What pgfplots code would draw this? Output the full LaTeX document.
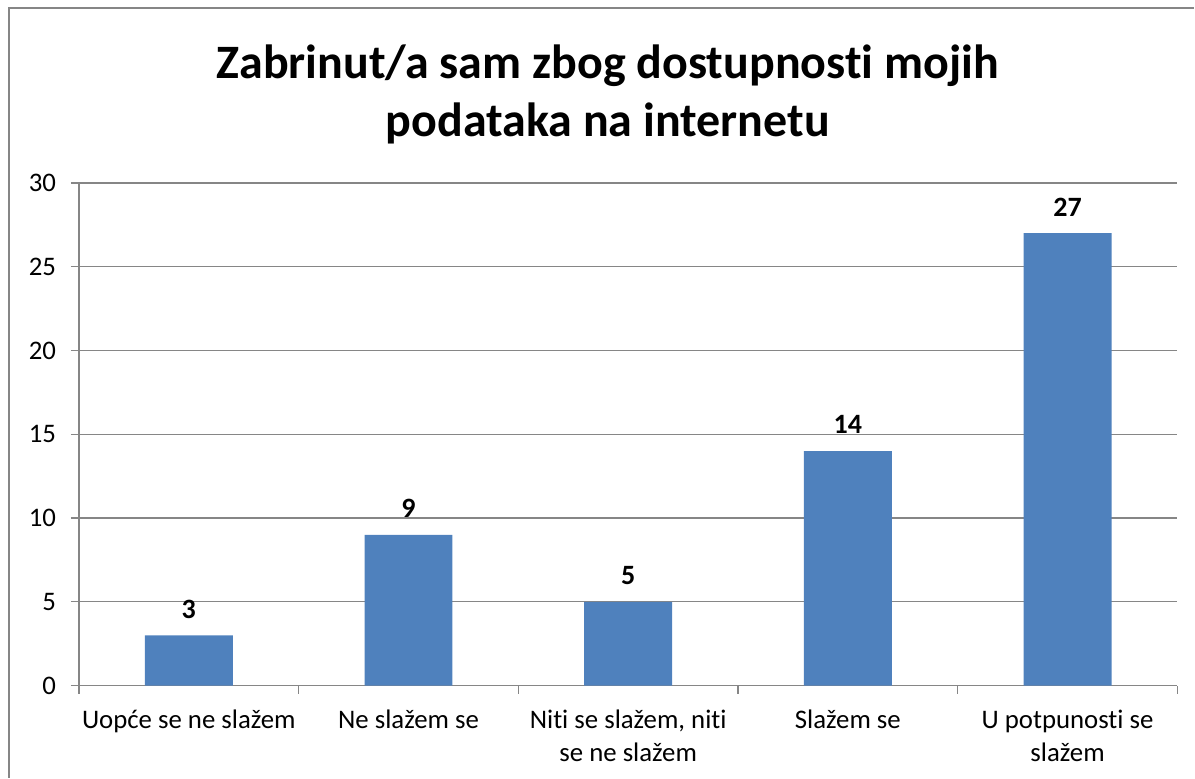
\documentclass[border=0pt]{standalone}
\usepackage{fontspec}
\setmainfont[Ligatures=NoCommon]{Carlito}
\usepackage{pgfplots}
\pgfplotsset{compat=1.18}
\definecolor{barblue}{RGB}{79,129,189}
\definecolor{gridgray}{RGB}{134,134,134}

\begin{document}
\begin{tikzpicture}
\begin{axis}[
    scale only axis,
    width=549.5pt, height=251.5pt,
    ybar, bar width=44pt,
    xmin=-0.5, xmax=4.5, ymin=0, ymax=30,
    ytick={0,5,...,30},
    xtick={-0.5,0.5,...,4.5},
    xticklabels={},
    extra x ticks={0,1,2,3,4},
    extra x tick labels={Uopće se ne slažem, Ne slažem se, {Niti se slažem, niti\\se ne slažem}, Slažem se, {U potpunosti se\\slažem}},
    extra x tick style={major tick length=0pt, grid=none,
        tick label style={align=center, yshift=-8.5pt}},
    axis x line*=bottom, axis y line*=left,
    axis line style={gridgray, line width=0.6pt},
    tick style={gridgray, line width=0.6pt},
    tick align=outside,
    major tick length=4pt,
    ymajorgrids, grid style={gridgray, line width=0.6pt},
    tick label style={font=\fontsize{13.4}{16.8}\selectfont, text=black},
    yticklabel style={xshift=-4pt},
    /pgf/number format/assume math mode=true,
    nodes near coords,
    nodes near coords style={font=\fontsize{14}{16}\selectfont\bfseries, text=black, yshift=5pt},
]
    \addplot[fill=barblue, draw=none] coordinates {(0,3) (1,9) (2,5) (3,14) (4,27)};
\end{axis}
% title
\node[anchor=base, font=\fontsize{24}{29}\selectfont\bfseries] at (264.5pt,303.5pt) {Zabrinut/a sam zbog dostupnosti mojih};
\node[anchor=base, font=\fontsize{24}{29}\selectfont\bfseries] at (264.5pt,274.5pt) {podataka na internetu};
% chart frame (cropped at right and bottom)
\draw[gridgray, line width=0.6pt] (-35pt,-46pt) -- (-35pt,339pt) -- (558pt,339pt);
\useasboundingbox (-39.5pt,-46pt) rectangle (558pt,343pt);
\end{tikzpicture}
\end{document}
